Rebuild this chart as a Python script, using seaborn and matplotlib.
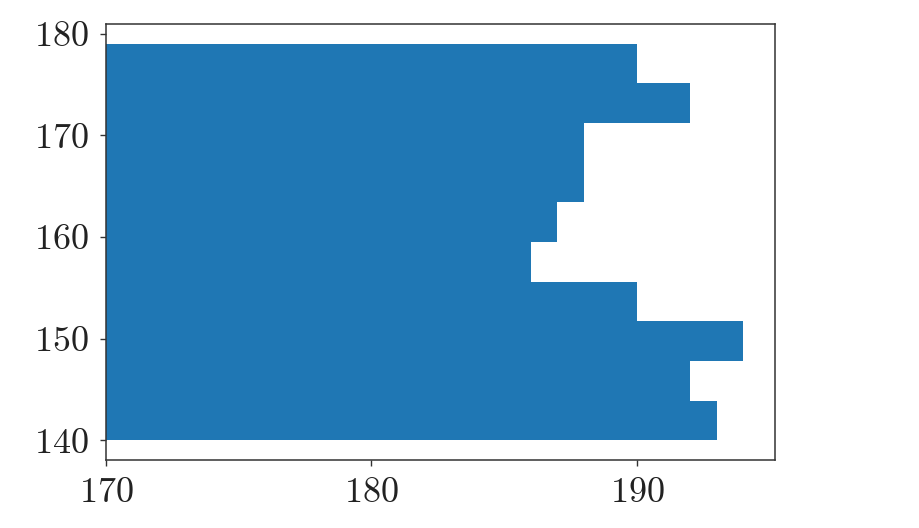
import matplotlib
matplotlib.use("Agg")
import matplotlib.pyplot as plt
import seaborn as sns
import pandas as pd

# bin edges (y) and bar lengths (x)
bin_edges = [140.0, 143.9, 147.8, 151.7, 155.6, 159.5, 163.4, 167.3, 171.2, 175.1, 179.0]
bar_values = [193, 192, 194, 190, 186, 187, 188, 188, 192, 190]
x_ticks = [170, 180, 190]
y_ticks = [140, 150, 160, 170, 180]

sns.set_style("ticks")
plt.rcParams["font.family"] = ["cmr10", "DejaVu Serif"]
plt.rcParams["axes.formatter.use_mathtext"] = True

centers = [(bin_edges[i] + bin_edges[i + 1]) / 2 for i in range(len(bar_values))]
df = pd.DataFrame({"y": centers, "w": bar_values})

fig = plt.figure(figsize=(9.2, 5.28), dpi=100)
ax = fig.add_axes([106 / 920, 1 - 460 / 528, (775 - 106) / 920, (460 - 24) / 528])
sns.histplot(data=df, y="y", weights="w", bins=bin_edges, ax=ax,
             color="#1f77b4", alpha=1, linewidth=0, edgecolor="none")
ax.set_xlim(170, 195.2)
ax.set_ylim(138.05, 180.95)
ax.set_xticks(x_ticks)
ax.set_yticks(y_ticks)
ax.set_xlabel("")
ax.set_ylabel("")
for s in ax.spines.values():
    s.set_color("#333333")
    s.set_linewidth(1.1)
ax.tick_params(axis="both", labelsize=26, length=4.5, width=1, color="#333333",
               labelcolor="#222222", pad=8)
fig.savefig("out.png", dpi=100)
